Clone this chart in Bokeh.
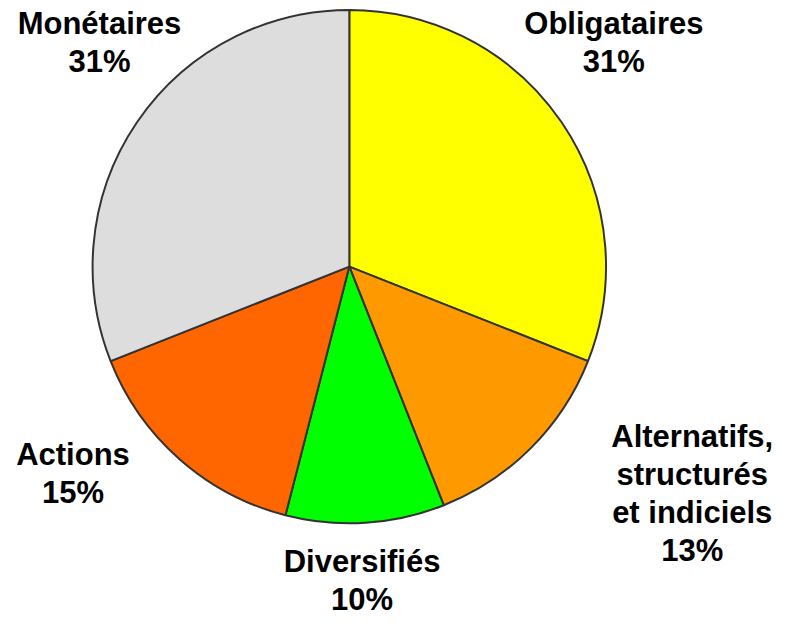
import math
from bokeh.plotting import figure
from bokeh.models import Range1d, ColumnDataSource
from bokeh.core.properties import value
from bokeh.embed import file_html
from bokeh.resources import INLINE

# ---- data ----
categories = ["Obligataires", "Alternatifs,\nstructurés\net indiciels", "Diversifiés", "Actions", "Monétaires"]
shares = [31, 13, 10, 15, 31]
colors = ["#FFFF00", "#FF9900", "#00FF00", "#FF6600", "#DDDDDD"]

# ---- layout (reference pixel coordinates: label centre / first line anchor) ----
REF_W, REF_H = 792, 633
W, H = 776, 617
label_anchor = [(626, 24), (706, 447), (369, 576), (74, 466), (101, 24)]
line_step = 39
center_px = (356, 273)
radius = 262

def sx(px):
    return px

def sy(py):
    return REF_H - py

p = figure(width=W, height=H, output_backend="svg", toolbar_location=None,
           x_range=Range1d(0, REF_W), y_range=Range1d(0, REF_H), min_border=0)
p.axis.visible = False
p.grid.visible = False
p.outline_line_color = None
p.background_fill_color = "white"
p.border_fill_color = "white"

total = sum(shares)
starts, ends = [], []
cum = 0
for s in shares:
    starts.append(math.pi / 2 - 2 * math.pi * cum / total)
    cum += s
    ends.append(math.pi / 2 - 2 * math.pi * cum / total)

src = ColumnDataSource(dict(x=[sx(center_px[0])] * len(shares), y=[sy(center_px[1])] * len(shares),
                            start=starts, end=ends, color=colors))
p.wedge(x="x", y="y", radius=radius, start_angle="start", end_angle="end", direction="clock",
        fill_color="color", line_color="#333333", line_width=2, source=src)

tx, ty, tt = [], [], []
for cat, s, (ax, ay) in zip(categories, shares, label_anchor):
    lines = cat.split("\n") + [f"{s}%"]
    for i, ln in enumerate(lines):
        tx.append(sx(ax))
        ty.append(sy(ay + i * line_step))
        tt.append(ln)

p.text(x=tx, y=ty, text=tt, text_align="center", text_baseline="alphabetic",
       text_font=value("Liberation Sans"), text_font_style="bold", text_font_size="31px",
       text_color="black")

open("out.html", "w").write(file_html(p, INLINE))
